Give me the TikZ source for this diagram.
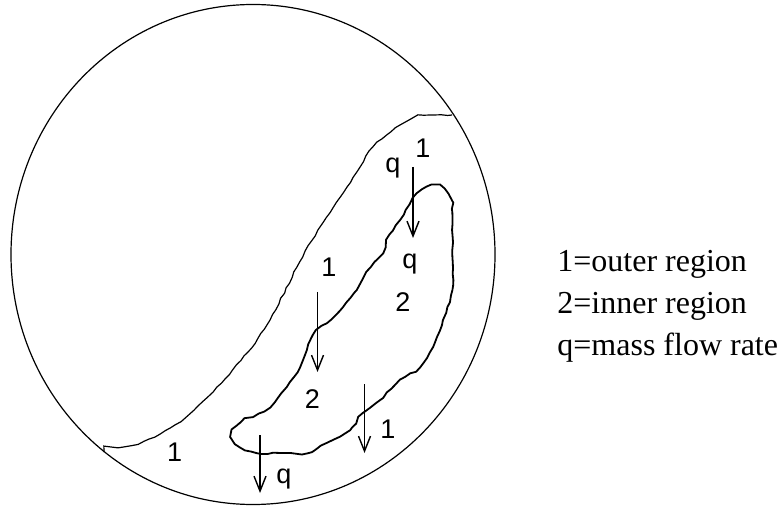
\documentclass[tikz,border=0pt]{standalone}
\usepackage{fontspec}
\setmainfont{Liberation Serif}
\newfontfamily\lblfont{Liberation Sans}
\usetikzlibrary{arrows.meta,decorations.pathmorphing}
\begin{document}
\pgfmathsetseed{7}
\begin{tikzpicture}[x=0.5pt,y=-0.5pt,
	wall/.style={line width=0.6pt},
	front/.style={line width=0.6pt,decorate,decoration={random steps,segment length=3pt,amplitude=0.35pt}},
	core/.style={line width=0.9pt,decorate,decoration={random steps,segment length=3pt,amplitude=0.35pt}},
	flow/.style={line width=0.7pt,-{Straight Barb[length=7.5pt,width=6pt]}},
	lbl/.style={font=\lblfont\fontsize{13.5}{15}\selectfont,inner sep=0pt},
	key/.style={font=\fontsize{16}{19}\selectfont,anchor=base west,inner sep=0pt}]
	\useasboundingbox (0,0) rectangle (781,507);
	%vessel wall
	\draw[wall] (253,254.5) ellipse [x radius=242, y radius=250];
	%boundary of outer region
	\draw[front] plot[smooth,tension=0.5] coordinates {(104,452) (118,448) (138,444) (160,434) (185,418) (213,392) (247,353) (270,320) (297,267) (320,227) (347,187) (373,147) (400,125) (418,115)} -- (452,115);
	%inner region
	\draw[core] plot[smooth cycle,tension=0.5] coordinates {(231.7,436) (240,423) (253,417) (270,407) (286.7,387) (300,367) (313,335) (326.7,323) (343,307) (356.7,290) (366.7,272) (383,253) (386.7,240) (400,220) (413,198) (426.7,187) (440,186) (450,197) (452.3,212) (452.3,250) (452.3,290) (443,320) (433,347) (420,367) (400,380) (380,400) (363,413) (350,430) (326.7,443) (308,453) (285,453) (256.7,453) (240,447)};
	%mass flow
	\coordinate (f1s) at (413,167);
	\coordinate (f1e) at (413,238);
	\coordinate (f2s) at (317.5,292);
	\coordinate (f2e) at (317.5,372);
	\coordinate (f3s) at (364.5,384);
	\coordinate (f3e) at (364.5,453);
	\coordinate (f4s) at (260,435);
	\coordinate (f4e) at (260,493);
	\draw[flow] (f1s) -- (f1e);
	\draw[flow] (f2s) -- (f2e);
	\draw[flow] (f3s) -- (f3e);
	\draw[flow] (f4s) -- (f4e);
	%labels
	\node[lbl] (qtop) at (393,168) {q};
	\node[lbl] (otop) at (423,148) {1};
	\node[lbl] (qmid) at (410,264) {q};
	\node[lbl] (omid) at (329,267) {1};
	\node[lbl] (itop) at (403,302) {2};
	\node[lbl] (ilow) at (312.5,399) {2};
	\node[lbl] (olow) at (388,429) {1};
	\node[lbl] (qbot) at (284,479) {q};
	\node[lbl] (oleft) at (174.7,452) {1};
	%legend
	\node[key] (kout) at (557,272) {1=outer region};
	\node[key] (kin) at (557,314) {2=inner region};
	\node[key] (kq) at (557,356) {q=mass flow rate};
\end{tikzpicture}
\end{document}
